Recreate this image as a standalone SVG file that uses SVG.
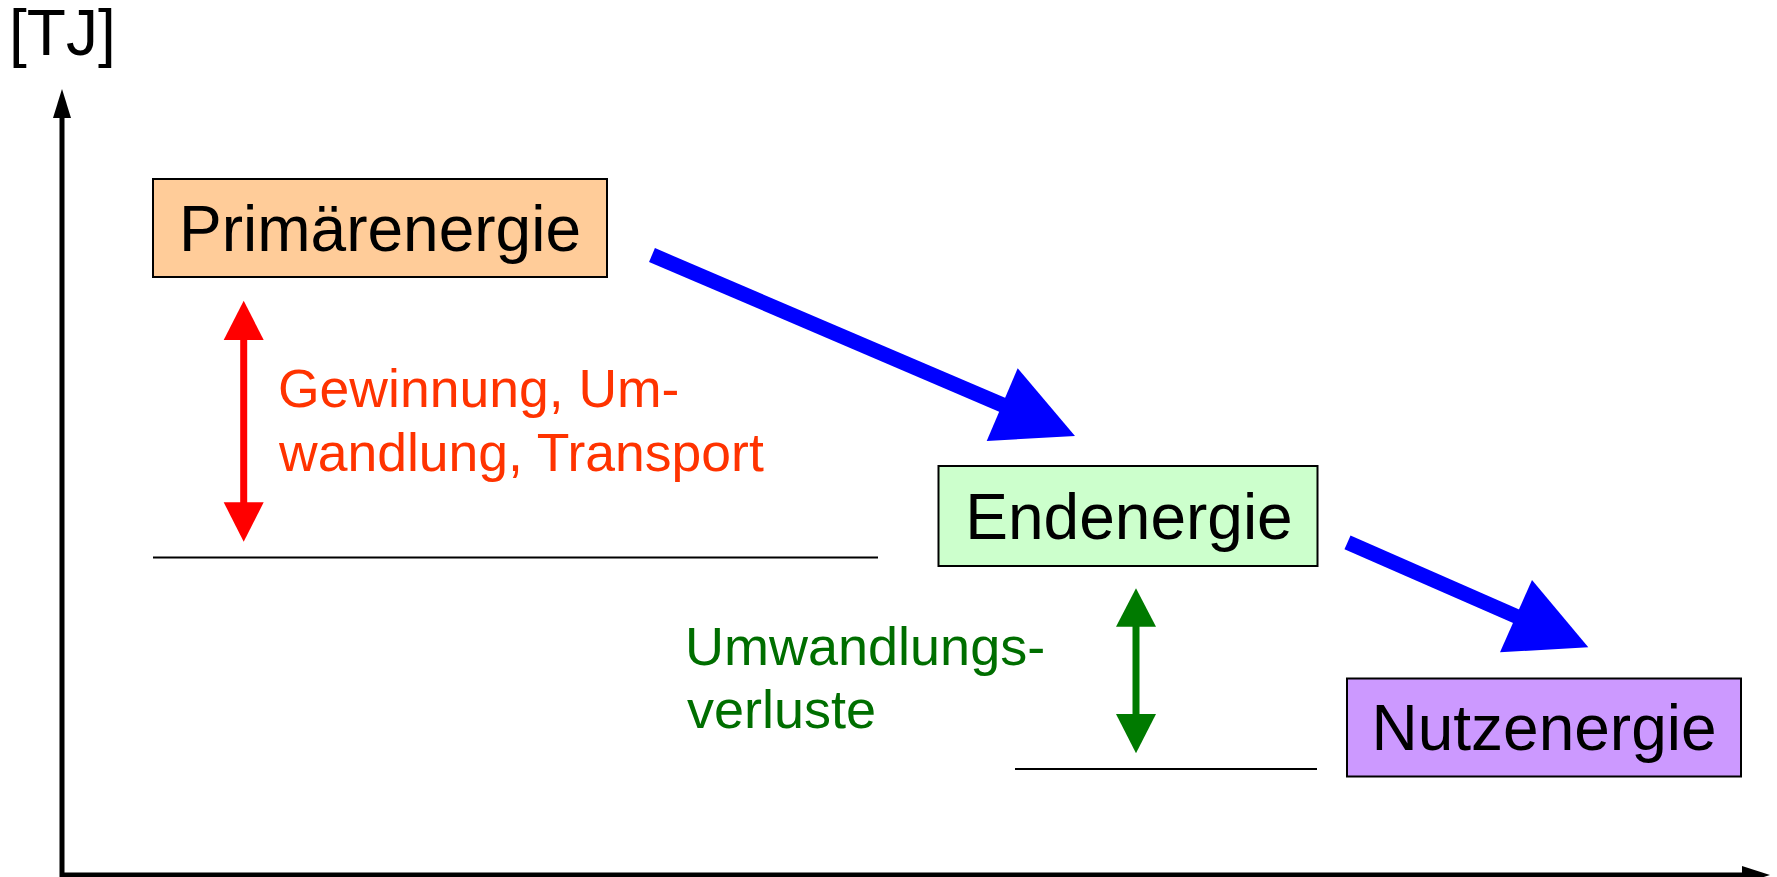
<svg xmlns="http://www.w3.org/2000/svg" width="1777" height="877" viewBox="0 0 1777 877">
<style>
text{font-family:"Liberation Sans",Arial,sans-serif}
.box{stroke:#000;stroke-width:2}
.big{font-size:64px;fill:#000;text-anchor:middle}
.red{font-size:53.5px;fill:#FF3300}
.grn{font-size:54px;fill:#006E00}
.lvl{stroke:#000;stroke-width:2}
</style>
<rect width="1777" height="877" fill="#fff"/>
<g id="axes">
<text x="9" y="55" font-size="64" fill="#000">[TJ]</text>
<line x1="62" y1="115" x2="62" y2="877" stroke="#000" stroke-width="5"/>
<polygon points="62,89 71,118 53,118" fill="#000"/>
<line x1="60" y1="875" x2="1745" y2="875" stroke="#000" stroke-width="5"/>
<polygon points="1770,875 1742,866 1742,884" fill="#000"/>
</g>
<g id="levels">
<line class="lvl" x1="153" y1="557.5" x2="878" y2="557.5"/>
<line class="lvl" x1="1015" y1="769" x2="1317" y2="769"/>
</g>
<g id="primaerenergie">
<rect class="box" x="153" y="179" width="454" height="98" fill="#FFCC99"/>
<text class="big" x="380" y="250.7" textLength="402" lengthAdjust="spacingAndGlyphs">Primärenergie</text>
</g>
<g id="endenergie">
<rect class="box" x="938.5" y="466" width="379" height="100" fill="#CCFFCC"/>
<text class="big" x="1129" y="539">Endenergie</text>
</g>
<g id="nutzenergie">
<rect class="box" x="1347" y="678.5" width="394" height="98" fill="#CC99FF"/>
<text class="big" x="1544" y="750">Nutzenergie</text>
</g>
<g id="connectors">
<line x1="652" y1="255" x2="1005" y2="406" stroke="#0000FF" stroke-width="15"/>
<polygon points="1017.7,368.3 1075,436 986.7,441" fill="#0000FF"/>
<line x1="1347.5" y1="542.3" x2="1519" y2="617.5" stroke="#0000FF" stroke-width="15"/>
<polygon points="1532,580 1588.3,647.3 1500,652.3" fill="#0000FF"/>
<line x1="243.7" y1="335" x2="243.7" y2="507" stroke="#FF0000" stroke-width="7"/>
<polygon points="243.7,300.7 263.7,340 223.7,340" fill="#FF0000"/>
<polygon points="243.7,541.7 263.7,502.3 223.7,502.3" fill="#FF0000"/>
<line x1="1136" y1="622" x2="1136" y2="719" stroke="#007A00" stroke-width="7"/>
<polygon points="1136,588.3 1156,626.7 1116,626.7" fill="#007A00"/>
<polygon points="1136,753.3 1156,714 1116,714" fill="#007A00"/>
</g>
<g id="label-gewinnung">
<text class="red" x="278" y="407">Gewinnung, Um-</text>
<text class="red" x="279" y="471">wandlung, Transport</text>
</g>
<g id="label-umwandlung">
<text class="grn" x="685" y="664.5">Umwandlungs-</text>
<text class="grn" x="687" y="727.5">verluste</text>
</g>
</svg>
